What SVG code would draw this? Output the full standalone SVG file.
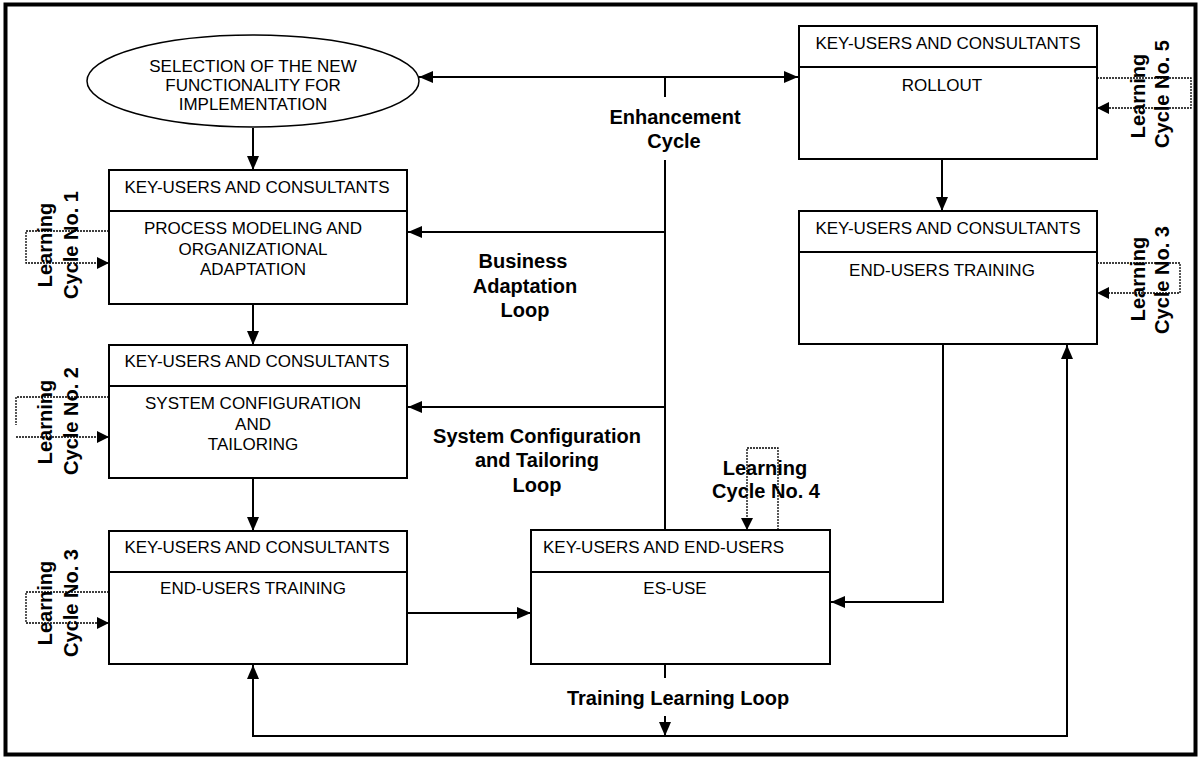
<svg xmlns="http://www.w3.org/2000/svg" width="1199" height="757" viewBox="0 0 1199 757">
<style>
.box{fill:#fff;stroke:#000;stroke-width:2}
.t{font-family:"Liberation Sans",Arial,sans-serif;font-size:17px;fill:#000;text-anchor:middle}
.b{font-family:"Liberation Sans",Arial,sans-serif;font-size:20px;font-weight:bold;fill:#000;text-anchor:middle}
.c{fill:none;stroke:#000;stroke-width:2}
.d{fill:none;stroke:#000;stroke-width:1.3;stroke-dasharray:2 1}
</style>
<defs>
<marker id="ah" markerWidth="14" markerHeight="12" refX="14" refY="6" orient="auto-start-reverse" markerUnits="userSpaceOnUse"><path d="M0,0 L14,6 L0,12 z" fill="#000"/></marker>
<marker id="dh" markerWidth="12" markerHeight="12" refX="12" refY="6" orient="auto" markerUnits="userSpaceOnUse"><path d="M0,0 L12,6 L0,12 z" fill="#000"/></marker>
</defs>
<rect x="0" y="0" width="1199" height="757" fill="#fff"/>
<rect x="5.5" y="4.5" width="1190" height="750" fill="none" stroke="#000" stroke-width="4"/>

<g id="connectors">
<path class="c" d="M253,128 V170" marker-end="url(#ah)"/>
<path class="c" d="M253,304 V345" marker-end="url(#ah)"/>
<path class="c" d="M253,478 V531" marker-end="url(#ah)"/>
<path class="c" d="M419,77 H798" marker-start="url(#ah)" marker-end="url(#ah)"/>
<path class="c" d="M665,77 V97"/>
<path class="c" d="M665,160 V530"/>
<path class="c" d="M665,232 H408" marker-end="url(#ah)"/>
<path class="c" d="M665,407 H408" marker-end="url(#ah)"/>
<path class="c" d="M407,613 H531" marker-end="url(#ah)"/>
<path class="c" d="M942,159 V211" marker-end="url(#ah)"/>
<path class="c" d="M943,344 V602 H831" marker-end="url(#ah)"/>
<path class="c" d="M665,664 V678"/>
<path class="c" d="M665,716 V736" marker-end="url(#ah)"/>
<path class="c" d="M253,665 V736 H1067 V345" marker-start="url(#ah)" marker-end="url(#ah)"/>
<path class="d" d="M109,231 H26 V263 H109" marker-end="url(#dh)"/>
<path class="d" d="M109,397 H16 V425"/>
<path class="d" d="M16,437 H109" marker-end="url(#dh)"/>
<path class="d" d="M109,592 H26 V623 H109" marker-end="url(#dh)"/>
<path class="d" d="M778,530 V448 H747 V530" marker-end="url(#dh)"/>
<path class="d" d="M1097,78 H1191 V108 H1097" marker-end="url(#dh)"/>
<path class="d" d="M1097,263 H1180 V293 H1097" marker-end="url(#dh)"/>
</g>

<g id="selection">
<ellipse cx="253" cy="81" rx="166" ry="46" fill="#fff" stroke="#000" stroke-width="1.5"/>
<text class="t" x="253" y="72">SELECTION OF THE NEW</text>
<text class="t" x="253" y="91">FUNCTIONALITY FOR</text>
<text class="t" x="253" y="110">IMPLEMENTATION</text>
</g>

<g id="process-modeling">
<rect class="box" x="109" y="170" width="298" height="134"/>
<line x1="109" y1="211" x2="407" y2="211" stroke="#000" stroke-width="2"/>
<text class="t" x="257" y="193">KEY-USERS AND CONSULTANTS</text>
<text class="t" x="253" y="234">PROCESS MODELING AND</text>
<text class="t" x="253" y="255">ORGANIZATIONAL</text>
<text class="t" x="253" y="275">ADAPTATION</text>
</g>

<g id="system-configuration">
<rect class="box" x="109" y="345" width="298" height="133"/>
<line x1="109" y1="386" x2="407" y2="386" stroke="#000" stroke-width="2"/>
<text class="t" x="257" y="367">KEY-USERS AND CONSULTANTS</text>
<text class="t" x="253" y="409">SYSTEM CONFIGURATION</text>
<text class="t" x="253" y="430">AND</text>
<text class="t" x="253" y="450">TAILORING</text>
</g>

<g id="training-left">
<rect class="box" x="109" y="531" width="298" height="133"/>
<line x1="109" y1="572" x2="407" y2="572" stroke="#000" stroke-width="2"/>
<text class="t" x="257" y="553">KEY-USERS AND CONSULTANTS</text>
<text class="t" x="253" y="594">END-USERS TRAINING</text>
</g>

<g id="es-use">
<rect class="box" x="531" y="530" width="299" height="134"/>
<line x1="531" y1="572" x2="830" y2="572" stroke="#000" stroke-width="2"/>
<text class="t" x="543" y="553" style="text-anchor:start">KEY-USERS AND END-USERS</text>
<text class="t" x="675" y="594">ES-USE</text>
</g>

<g id="rollout">
<rect class="box" x="799" y="26" width="298" height="133"/>
<line x1="799" y1="67" x2="1097" y2="67" stroke="#000" stroke-width="2"/>
<text class="t" x="948" y="49">KEY-USERS AND CONSULTANTS</text>
<text class="t" x="942" y="91">ROLLOUT</text>
</g>

<g id="training-right">
<rect class="box" x="799" y="211" width="298" height="133"/>
<line x1="799" y1="252" x2="1097" y2="252" stroke="#000" stroke-width="2"/>
<text class="t" x="948" y="234">KEY-USERS AND CONSULTANTS</text>
<text class="t" x="942" y="276">END-USERS TRAINING</text>
</g>

<g id="labels">
<text class="b" x="675" y="124">Enhancement</text>
<text class="b" x="674" y="148">Cycle</text>
<text class="b" x="523" y="268">Business</text>
<text class="b" x="525" y="293">Adaptation</text>
<text class="b" x="525" y="317">Loop</text>
<text class="b" x="537" y="443">System Configuration</text>
<text class="b" x="537" y="467">and Tailoring</text>
<text class="b" x="537" y="492">Loop</text>
<text class="b" x="765" y="475">Learning</text>
<text class="b" x="766" y="498">Cycle No. 4</text>
<text class="b" x="678" y="705">Training Learning Loop</text>
<text class="b" transform="translate(52,245) rotate(-90)">Learning</text>
<text class="b" transform="translate(78,245) rotate(-90)">Cycle No. 1</text>
<text class="b" transform="translate(52,422) rotate(-90)">Learning</text>
<text class="b" transform="translate(78,421) rotate(-90)">Cycle No. 2</text>
<text class="b" transform="translate(52,603) rotate(-90)">Learning</text>
<text class="b" transform="translate(78,603) rotate(-90)">Cycle No. 3</text>
<text class="b" transform="translate(1145,96) rotate(-90)">Learning</text>
<text class="b" transform="translate(1169,94) rotate(-90)">Cycle No. 5</text>
<text class="b" transform="translate(1145,279) rotate(-90)">Learning</text>
<text class="b" transform="translate(1169,280) rotate(-90)">Cycle No. 3</text>
</g>
</svg>
